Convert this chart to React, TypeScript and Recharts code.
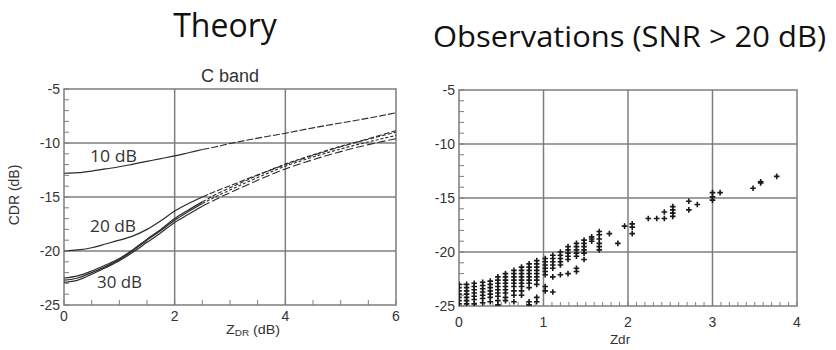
import React from "react";
import {
  LineChart,
  Line,
  XAxis,
  YAxis,
  ReferenceLine,
  ReferenceArea,
  ScatterChart,
  Scatter,
} from "recharts";

// ---------- Theory panel data ----------
const lineZdr = [0, 0.25, 0.5, 0.75, 1, 1.25, 1.5, 1.75, 2, 2.25, 2.5, 2.75, 3, 3.5, 4, 4.5, 5, 5.5, 6];
const cdr10 = [-12.8, -12.75, -12.6, -12.4, -12.2, -11.95, -11.7, -11.45, -11.2, -10.9, -10.6, -10.35, -10.05, -9.55, -9.1, -8.6, -8.15, -7.7, -7.2];
const cdr20 = [-20.0, -19.9, -19.7, -19.35, -19.0, -18.6, -18.0, -17.2, -16.3, -15.6, -15.0, -14.45, -13.95, -12.95, -12.0, -11.15, -10.35, -9.6, -8.85];
const cdr30a = [-22.5, -22.3, -21.85, -21.3, -20.7, -19.85, -18.9, -18.0, -17.0, -16.2, -15.45, -14.75, -14.15, -13.0, -11.95, -11.1, -10.3, -9.65, -9.0];
const cdr30b = [-22.7, -22.5, -22.0, -21.45, -20.8, -19.95, -19.0, -18.1, -17.15, -16.35, -15.6, -14.95, -14.35, -13.2, -12.15, -11.3, -10.55, -9.9, -9.3];
const cdr30c = [-22.9, -22.7, -22.15, -21.55, -20.9, -20.1, -19.2, -18.3, -17.35, -16.6, -15.85, -15.2, -14.6, -13.45, -12.4, -11.55, -10.8, -10.15, -9.6];
const dashStart = 2.5;

const theoryXTicks = [0, 0.5, 1, 1.5, 2, 2.5, 3, 3.5, 4, 4.5, 5, 5.5, 6];
const theoryXMajor = [0, 2, 4, 6];
const yTicks = [-25, -24, -23, -22, -21, -20, -19, -18, -17, -16, -15, -14, -13, -12, -11, -10, -9, -8, -7, -6, -5];
const yMajor = [-25, -20, -15, -10, -5];
const theoryGridX = [2, 4];
const gridY = [-10, -15, -20];

// ---------- Observation panel data ----------
const obsZdr = [0, 0.09, 0.18, 0.28, 0.37, 0.46, 0.55, 0.65, 0.74, 0.83, 0.92, 1.02, 1.11, 1.2, 1.29, 1.39, 1.48, 1.57, 1.66, 1.78, 1.88, 1.96, 2.05, 2.24, 2.34, 2.43, 2.53, 2.72, 2.82, 3.0, 3.09, 3.48, 3.57, 3.76];
const obsCdr = [
  [-23.0, -23.3, -23.6, -23.9, -24.2, -24.5, -24.8],
  [-23.0, -23.3, -23.6, -23.9, -24.2, -24.5, -24.8],
  [-22.9, -23.2, -23.5, -23.8, -24.1, -24.4, -24.8],
  [-22.8, -23.1, -23.4, -23.7, -24.0, -24.3, -24.7],
  [-22.7, -23.0, -23.3, -23.6, -23.9, -24.2, -24.6],
  [-22.3, -22.6, -22.9, -23.2, -23.5, -23.8, -24.1, -24.5, -24.9],
  [-22.0, -22.3, -22.6, -22.9, -23.2, -23.5, -23.8, -24.2, -24.5],
  [-21.7, -22.0, -22.3, -22.6, -22.9, -23.2, -23.6, -24.0, -24.6],
  [-21.4, -21.7, -22.0, -22.3, -22.6, -22.9, -23.2, -23.6, -24.0],
  [-21.1, -21.4, -21.7, -22.0, -22.3, -22.6, -22.9, -23.3, -24.6, -24.9],
  [-20.8, -21.1, -21.4, -21.7, -22.0, -22.3, -22.6, -23.0, -24.2, -24.6],
  [-20.6, -20.9, -21.2, -21.5, -21.8, -22.1, -23.2, -23.6],
  [-20.3, -20.6, -20.9, -21.2, -21.5, -22.3, -23.7],
  [-20.0, -20.3, -20.6, -20.9, -21.2, -22.1],
  [-19.5, -19.8, -20.1, -20.4, -20.7, -22.0],
  [-19.2, -19.5, -19.8, -20.1, -20.4, -21.5, -21.8],
  [-18.9, -19.2, -19.5, -19.8, -20.1, -20.7],
  [-18.6, -18.8, -19.0],
  [-18.1, -18.4, -18.8, -19.2, -19.5, -19.8],
  [-18.3],
  [-19.2],
  [-17.6],
  [-17.4, -17.7, -18.3],
  [-16.9],
  [-16.9],
  [-16.3, -16.9],
  [-15.8, -16.1, -16.4, -16.7],
  [-15.3, -16.1],
  [-15.6],
  [-14.5, -14.9, -15.2],
  [-14.5],
  [-14.1],
  [-13.5, -13.6],
  [-13.0],
];
const obsXTicks = [0, 0.1, 0.2, 0.3, 0.4, 0.5, 0.6, 0.7, 0.8, 0.9, 1, 1.1, 1.2, 1.3, 1.4, 1.5, 1.6, 1.7, 1.8, 1.9, 2, 2.1, 2.2, 2.3, 2.4, 2.5, 2.6, 2.7, 2.8, 2.9, 3, 3.1, 3.2, 3.3, 3.4, 3.5, 3.6, 3.7, 3.8, 3.9, 4];
const obsXMajor = [0, 1, 2, 3, 4];
const obsGridX = [1, 2, 3];

// ---------- Derived tables ----------
const series = [
  { key: "c10", values: cdr10, dash: "7 2" },
  { key: "c20", values: cdr20, dash: "6 2" },
  { key: "c30a", values: cdr30a, dash: "4 2" },
  { key: "c30b", values: cdr30b, dash: "3 2" },
  { key: "c30c", values: cdr30c, dash: "8 3" },
];

const theoryRows = lineZdr.map((x, i) => {
  const row: Record<string, number | null> = { x };
  series.forEach((s) => {
    row[s.key + "S"] = x <= dashStart ? s.values[i] : null;
    row[s.key + "D"] = x >= dashStart ? s.values[i] : null;
  });
  return row;
});

const obsPoints = obsZdr.flatMap((x, i) => obsCdr[i].map((y) => ({ x, y })));

const fmt = (major: number[]) => (v: number) => (major.includes(v) ? String(v) : "");

const tickStyle = { fontSize: 14, fill: "#333", fontFamily: "Liberation Sans, Arial, sans-serif" };
const gridColor = "#7e7e7e";
const lineColor = "#2b2b2b";

const PlusShape = (props: any) => {
  const { cx, cy } = props;
  if (cx == null || cy == null) return null;
  const h = 2.8;
  return (
    <path
      d={`M${cx - h},${cy}H${cx + h}M${cx},${cy - h}V${cy + h}`}
      stroke="#1a1a1a"
      strokeWidth={1.6}
      fill="none"
    />
  );
};

export default function App() {
  return (
    <div style={{ position: "absolute", left: 0, top: 0, width: 836, height: 350, background: "#fff", overflow: "hidden" }}>
      <div style={{ position: "absolute", left: 0, top: 0 }}>
        <LineChart width={420} height={350} data={theoryRows} margin={{ top: 89, right: 24, bottom: 15, left: 0 }}>
          <XAxis
            dataKey="x"
            type="number"
            domain={[0, 6]}
            ticks={theoryXTicks}
            interval={0}
            tickFormatter={fmt(theoryXMajor)}
            tickSize={-5}
            tickMargin={11}
            axisLine={false}
            tick={tickStyle}
            tickLine={{ stroke: gridColor }}
            height={30}
            allowDataOverflow
          />
          <XAxis
            xAxisId="top"
            dataKey="x"
            orientation="top"
            type="number"
            domain={[0, 6]}
            ticks={theoryXTicks}
            interval={0}
            tick={false}
            tickSize={-5}
            axisLine={false}
            tickLine={{ stroke: gridColor }}
            height={0}
            allowDataOverflow
          />
          <YAxis
            type="number"
            domain={[-25, -5]}
            ticks={yTicks}
            interval={0}
            tickFormatter={fmt(yMajor)}
            tickSize={-5}
            tickMargin={9}
            axisLine={false}
            tick={tickStyle}
            tickLine={{ stroke: gridColor }}
            width={64}
            allowDataOverflow
          />
          <YAxis
            yAxisId="r"
            orientation="right"
            type="number"
            domain={[-25, -5]}
            ticks={yTicks}
            interval={0}
            tick={false}
            tickSize={-5}
            axisLine={false}
            tickLine={{ stroke: gridColor }}
            width={0}
            allowDataOverflow
          />
          {theoryGridX.map((v) => (
            <ReferenceLine key={"gx" + v} x={v} stroke={gridColor} strokeWidth={1.5} />
          ))}
          {gridY.map((v) => (
            <ReferenceLine key={"gy" + v} y={v} stroke={gridColor} strokeWidth={1.5} />
          ))}
          <ReferenceArea x1={0} x2={6} y1={-25} y2={-5} fill="none" stroke={gridColor} strokeWidth={1.5} fillOpacity={0} />
          {series.map((s) => (
            <Line
              key={s.key + "S"}
              dataKey={s.key + "S"}
              type="monotone"
              stroke={lineColor}
              strokeWidth={1.2}
              dot={false}
              activeDot={false}
              isAnimationActive={false}
            />
          ))}
          {series.map((s) => (
            <Line
              key={s.key + "D"}
              dataKey={s.key + "D"}
              type="monotone"
              stroke={lineColor}
              strokeWidth={1.1}
              strokeDasharray={s.dash}
              dot={false}
              activeDot={false}
              isAnimationActive={false}
            />
          ))}
        </LineChart>
      </div>

      <div style={{ position: "absolute", left: 400, top: 0 }}>
        <ScatterChart width={436} height={350} margin={{ top: 90, right: 39, bottom: 14, left: 0 }}>
          <XAxis
            dataKey="x"
            type="number"
            domain={[0, 4]}
            ticks={obsXTicks}
            interval={0}
            tickFormatter={fmt(obsXMajor)}
            tickSize={-4}
            tickMargin={15}
            axisLine={false}
            tick={tickStyle}
            tickLine={{ stroke: gridColor }}
            height={30}
            allowDataOverflow
          />
          <XAxis
            xAxisId="top"
            dataKey="x"
            orientation="top"
            type="number"
            domain={[0, 4]}
            ticks={obsXTicks}
            interval={0}
            tick={false}
            tickSize={-4}
            axisLine={false}
            tickLine={{ stroke: gridColor }}
            height={0}
            allowDataOverflow
          />
          <YAxis
            dataKey="y"
            type="number"
            domain={[-25, -5]}
            ticks={yTicks}
            interval={0}
            tickFormatter={fmt(yMajor)}
            tickSize={-5}
            tickMargin={9}
            axisLine={false}
            tick={tickStyle}
            tickLine={{ stroke: gridColor }}
            width={59}
            allowDataOverflow
          />
          <YAxis
            yAxisId="r"
            dataKey="y"
            orientation="right"
            type="number"
            domain={[-25, -5]}
            ticks={yTicks}
            interval={0}
            tick={false}
            tickSize={-5}
            axisLine={false}
            tickLine={{ stroke: gridColor }}
            width={0}
            allowDataOverflow
          />
          {obsGridX.map((v) => (
            <ReferenceLine key={"ox" + v} x={v} stroke={gridColor} strokeWidth={1.5} />
          ))}
          {gridY.map((v) => (
            <ReferenceLine key={"oy" + v} y={v} stroke={gridColor} strokeWidth={1.5} />
          ))}
          <ReferenceArea x1={0} x2={4} y1={-25} y2={-5} fill="none" stroke={gridColor} strokeWidth={1.5} fillOpacity={0} />
          <Scatter data={obsPoints} shape={PlusShape} isAnimationActive={false} />
        </ScatterChart>
      </div>

      <svg width={836} height={350} style={{ position: "absolute", left: 0, top: 0, pointerEvents: "none" }}>
        <g fontFamily="'Open Sans', 'Noto Sans', sans-serif" fill="#111">
          <text x={225} y={37} fontSize={32} textAnchor="middle">Theory</text>
          <text x={433} y={47} fontSize={30} textLength={393} lengthAdjust="spacingAndGlyphs">Observations (SNR &gt; 20 dB)</text>
          <text x={90} y={161.5} fontSize={17} fill="#333" textLength={47} lengthAdjust="spacingAndGlyphs">10 dB</text>
          <text x={90} y={231.5} fontSize={17} fill="#333" textLength={46} lengthAdjust="spacingAndGlyphs">20 dB</text>
          <text x={97} y={288} fontSize={17} fill="#333" textLength={45} lengthAdjust="spacingAndGlyphs">30 dB</text>
        </g>
        <g fontFamily="'Liberation Sans', Arial, sans-serif" fill="#333">
          <text x={230} y={82} fontSize={18} textAnchor="middle">C band</text>
          <text transform="translate(19,195) rotate(-90)" fontSize={14} textAnchor="middle">CDR (dB)</text>
          <text x={226} y={334} fontSize={13} textLength={54} lengthAdjust="spacingAndGlyphs">
            Z<tspan fontSize={9} dy={2}>DR</tspan>
            <tspan fontSize={13} dy={-2}> (dB)</tspan>
          </text>
          <text x={620} y={344} fontSize={13.5} textAnchor="middle">Zdr</text>
        </g>
      </svg>
    </div>
  );
}
